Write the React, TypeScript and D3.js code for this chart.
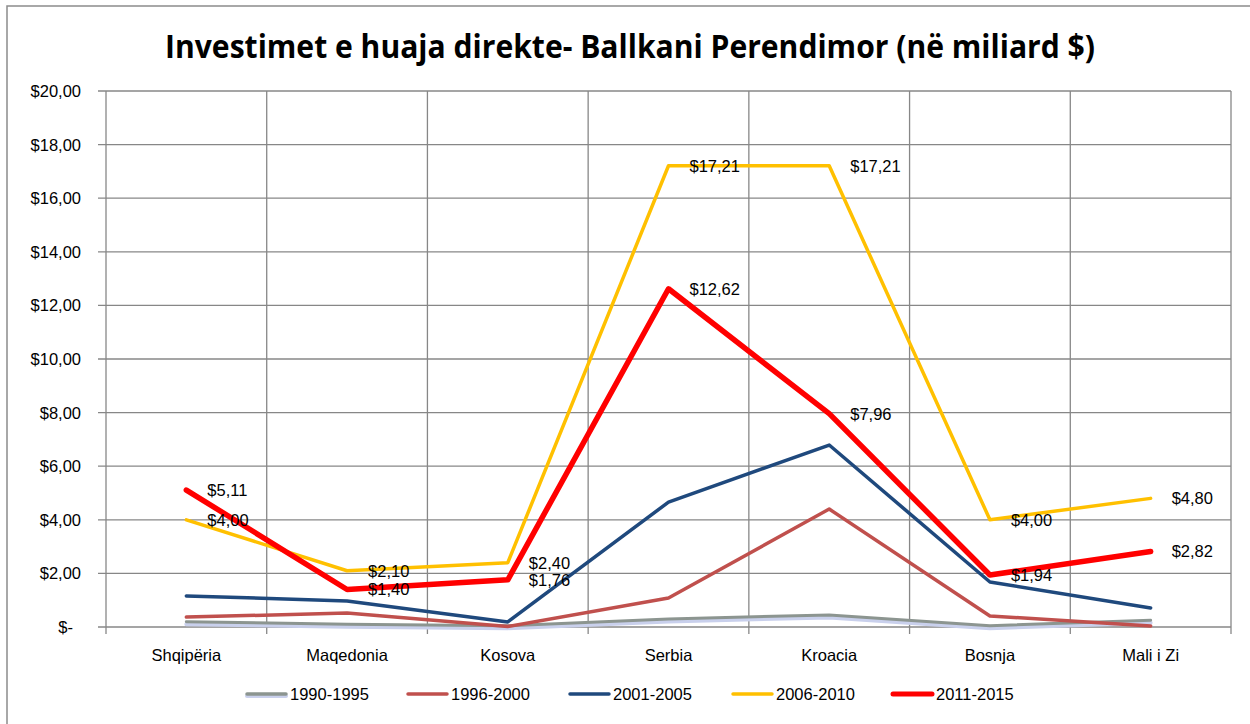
import * as d3 from "d3";
import { useEffect, useRef } from "react";

const countries = ["Shqipëria", "Maqedonia", "Kosova", "Serbia", "Kroacia", "Bosnja", "Mali i Zi"];
const periods = ["1990-1995", "1996-2000", "2001-2005", "2006-2010", "2011-2015"];
const v1990 = [0.2, 0.1, 0.05, 0.3, 0.45, 0.05, 0.25];
const v1996 = [0.37, 0.52, 0.02, 1.08, 4.4, 0.41, 0.04];
const v2001 = [1.16, 0.97, 0.19, 4.66, 6.79, 1.68, 0.71];
const v2006 = [4.0, 2.1, 2.4, 17.21, 17.21, 4.0, 4.8];
const v2011 = [5.11, 1.4, 1.76, 12.62, 7.96, 1.94, 2.82];
const yTicks = [0, 2, 4, 6, 8, 10, 12, 14, 16, 18, 20];

const colors = ["#8c9590", "#c0504d", "#1f497d", "#ffc000", "#ff0000"];
const widths = [3, 3.5, 3.5, 3.5, 5.5];
const labelled = [false, false, false, true, true];

const fmt = (v: number) => (v === 0 ? "$-" : "$" + v.toFixed(2).replace(".", ","));

export default function App() {
  const ref = useRef<SVGSVGElement>(null);

  useEffect(() => {
    const svg = d3.select(ref.current);
    svg.selectAll("*").remove();
    const W = 1250, H = 724;
    const left = 106, right = 1231, top = 91, bottom = 627;
    const font = "'Liberation Sans', Arial, sans-serif";
    const fs = 16.5;
    const series = [v1990, v1996, v2001, v2006, v2011];

    svg.append("rect").attr("x", 7).attr("y", 6).attr("width", W).attr("height", H)
      .attr("fill", "#fff").attr("stroke", "#8c8c8c").attr("stroke-width", 1.5);

    svg.append("text").attr("x", 630).attr("y", 58).attr("text-anchor", "middle")
      .attr("font-family", "'Open Sans', sans-serif").attr("font-weight", "bold")
      .attr("font-size", 32).attr("textLength", 930).attr("lengthAdjust", "spacingAndGlyphs")
      .attr("fill", "#000").text("Investimet e huaja direkte- Ballkani Perendimor (në miliard $)");

    const x = d3.scaleBand().domain(countries).range([left, right]);
    const y = d3.scaleLinear().domain([0, 20]).range([bottom, top]);
    const cx = (c: string) => (x(c) as number) + x.bandwidth() / 2;

    const grid = svg.append("g").attr("stroke", "#878787").attr("stroke-width", 1.3);
    yTicks.forEach((t) => {
      grid.append("line").attr("x1", left - 8).attr("x2", right).attr("y1", y(t)).attr("y2", y(t));
    });
    const bounds = countries.map((c) => x(c) as number).concat([right]);
    bounds.forEach((b) => {
      grid.append("line").attr("x1", b).attr("x2", b).attr("y1", top).attr("y2", bottom + 7);
    });

    svg.append("g").selectAll("text").data(yTicks).join("text")
      .attr("x", (t) => (t === 0 ? 73 : 81)).attr("y", (t) => y(t) + 6).attr("text-anchor", "end")
      .attr("font-family", font).attr("font-size", fs).attr("fill", "#000")
      .text((t) => fmt(t));

    svg.append("g").selectAll("text").data(countries).join("text")
      .attr("x", (c) => cx(c)).attr("y", 661).attr("text-anchor", "middle")
      .attr("font-family", font).attr("font-size", fs).attr("fill", "#000").text((c) => c);

    const line = d3.line<number>().x((_, i) => cx(countries[i])).y((v) => y(v));

    // soft light band under the 1990-1995 line
    svg.append("path").datum(v1990).attr("d", line).attr("fill", "none")
      .attr("stroke", "#c9d0ec").attr("stroke-width", 4).attr("transform", "translate(0,2.5)")
      .attr("stroke-linecap", "round");

    series.forEach((s, k) => {
      svg.append("path").datum(s).attr("d", line).attr("fill", "none")
        .attr("stroke", colors[k]).attr("stroke-width", widths[k])
        .attr("stroke-linejoin", "round").attr("stroke-linecap", "round");
    });

    series.forEach((s, k) => {
      if (!labelled[k]) return;
      svg.append("g").selectAll("text").data(s).join("text")
        .attr("x", (_, i) => cx(countries[i]) + 21).attr("y", (v) => y(v) + 6)
        .attr("font-family", font).attr("font-size", fs).attr("fill", "#000")
        .text((v) => fmt(v));
    });

    const legX = [246, 407, 569, 732, 892];
    const lg = svg.append("g");
    periods.forEach((p, k) => {
      const g = lg.append("g").attr("transform", `translate(${legX[k]},694)`);
      if (k === 0) {
        g.append("line").attr("x1", 1).attr("x2", 40).attr("y1", 2).attr("y2", 2)
          .attr("stroke", "#c9d0ec").attr("stroke-width", 4).attr("stroke-linecap", "round");
      }
      g.append("line").attr("x1", 1).attr("x2", 40).attr("y1", 0).attr("y2", 0)
        .attr("stroke", colors[k]).attr("stroke-width", k === 4 ? 5 : 3.5).attr("stroke-linecap", "round");
      g.append("text").attr("x", 44).attr("y", 6).attr("font-family", font)
        .attr("font-size", fs).attr("fill", "#000").text(p);
    });
  }, []);

  return (
    <svg ref={ref} width={1250} height={724} style={{ position: "absolute", left: 0, top: 0 }} />
  );
}
